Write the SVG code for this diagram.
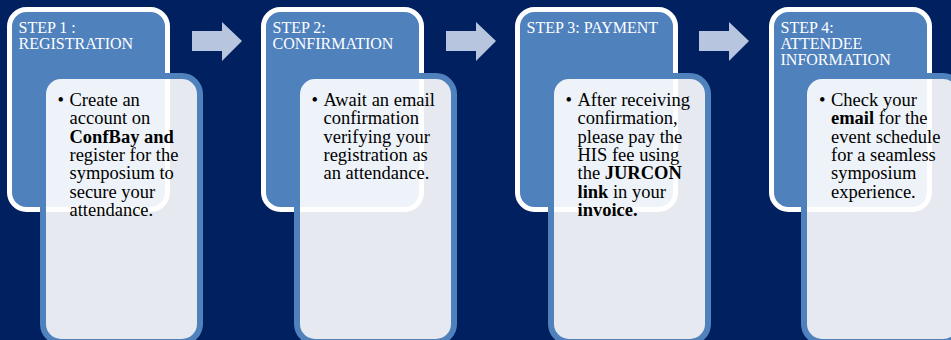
<svg xmlns="http://www.w3.org/2000/svg" width="951" height="340" viewBox="0 0 951 340">
<style>
.bg{fill:#002060}
.step{fill:#4f81bd;stroke:#ffffff;stroke-width:5}
.card{fill:#ffffff;fill-opacity:0.9;stroke:#4f81bd;stroke-width:6}
.arrow{fill:#b7c5de}
.hd{font-family:"Liberation Serif","Times New Roman",serif;font-size:16px;fill:#ffffff}
.bd{font-family:"Liberation Serif","Times New Roman",serif;font-size:18.5px;fill:#000000}
.b{font-weight:bold}
</style>
<defs>
<polygon id="arr" points="0,10 30,10 30,1 50,20 30,40 30,30 0,30"/>
</defs>
<rect class="bg" x="0" y="0" width="951" height="340"/>
<g id="connectors">
<use href="#arr" class="arrow" x="192" y="21"/>
<use href="#arr" class="arrow" x="446" y="21"/>
<use href="#arr" class="arrow" x="699" y="21"/>
</g>
<g id="step1">
<rect class="step" x="9.5" y="9.5" width="158" height="200" rx="17"/>
<text class="hd" x="18.5" y="32.5">STEP 1 :</text>
<text class="hd" x="18.5" y="48.5">REGISTRATION</text>
<rect class="card" x="43" y="76" width="157" height="266" rx="18"/>
<text class="bd" x="57.5" y="106">•</text>
<text class="bd"><tspan x="69.5" y="106">Create an</tspan><tspan x="69.5" y="124.3">account on</tspan><tspan x="69.5" y="142.6" class="b">ConfBay and</tspan><tspan x="69.5" y="160.9">register for the</tspan><tspan x="69.5" y="179.2">symposium to</tspan><tspan x="69.5" y="197.5">secure your</tspan><tspan x="69.5" y="215.8">attendance.</tspan></text>
</g>
<g id="step2">
<rect class="step" x="263.5" y="9.5" width="158" height="200" rx="17"/>
<text class="hd" x="272.5" y="32.5">STEP 2:</text>
<text class="hd" x="272.5" y="48.5">CONFIRMATION</text>
<rect class="card" x="297" y="76" width="157" height="266" rx="18"/>
<text class="bd" x="311.5" y="106">•</text>
<text class="bd"><tspan x="323.5" y="106">Await an email</tspan><tspan x="323.5" y="124.3">confirmation</tspan><tspan x="323.5" y="142.6">verifying your</tspan><tspan x="323.5" y="160.9">registration as</tspan><tspan x="323.5" y="179.2">an attendance.</tspan></text>
</g>
<g id="step3">
<rect class="step" x="517.5" y="9.5" width="158" height="200" rx="17"/>
<text class="hd" x="526.5" y="32.5">STEP 3: PAYMENT</text>
<rect class="card" x="551" y="76" width="157" height="266" rx="18"/>
<text class="bd" x="565.5" y="106">•</text>
<text class="bd"><tspan x="577.5" y="106">After receiving</tspan><tspan x="577.5" y="124.3">confirmation,</tspan><tspan x="577.5" y="142.6">please pay the</tspan><tspan x="577.5" y="160.9">HIS fee using</tspan><tspan x="577.5" y="179.2">the <tspan class="b">JURCON</tspan></tspan><tspan x="577.5" y="197.5"><tspan class="b">link</tspan> in your</tspan><tspan x="577.5" y="215.8" class="b">invoice.</tspan></text>
</g>
<g id="step4">
<rect class="step" x="771.5" y="9.5" width="158" height="200" rx="17"/>
<text class="hd" x="780.5" y="32.5">STEP 4:</text>
<text class="hd" x="780.5" y="48.5">ATTENDEE</text>
<text class="hd" x="780.5" y="64.5">INFORMATION</text>
<rect class="card" x="804" y="76" width="157" height="266" rx="18"/>
<text class="bd" x="819" y="106">•</text>
<text class="bd"><tspan x="831" y="106">Check your</tspan><tspan x="831" y="124.3"><tspan class="b">email</tspan> for the</tspan><tspan x="831" y="142.6">event schedule</tspan><tspan x="831" y="160.9">for a seamless</tspan><tspan x="831" y="179.2">symposium</tspan><tspan x="831" y="197.5">experience.</tspan></text>
</g>
</svg>
